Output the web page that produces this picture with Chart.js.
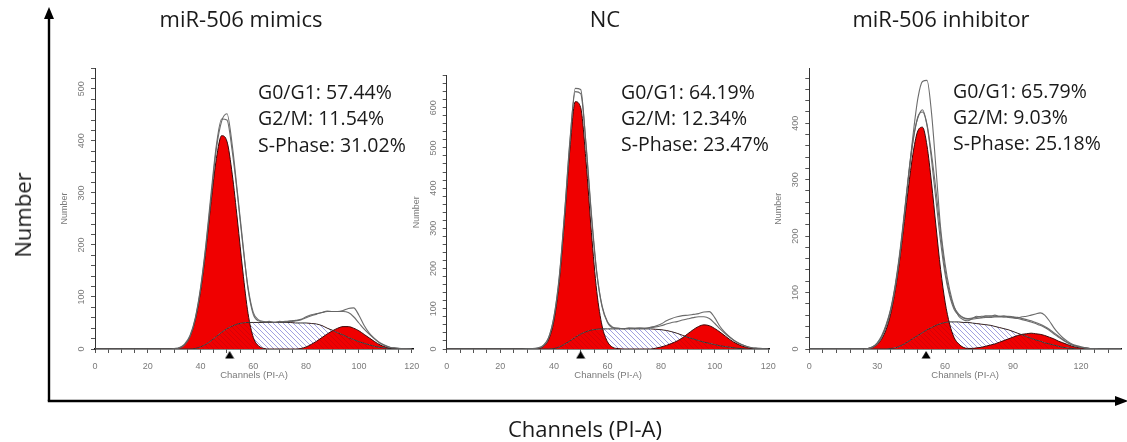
<!DOCTYPE html>
<html>
<head>
<meta charset="utf-8">
<title>Cell cycle distribution</title>
<script src="https://cdn.jsdelivr.net/npm/chart.js@4.4.1/dist/chart.umd.min.js"></script>
<style>
html,body{margin:0;padding:0;background:#fff;}
#wrap{position:relative;width:1127px;height:442px;overflow:hidden;background:#fff;}
#wrap canvas,#wrap svg{position:absolute;left:0;top:0;}
.txt{position:absolute;white-space:nowrap;font-family:'Open Sans',sans-serif;color:#1a1a1a;}
.title{font-size:22px;line-height:26px;transform:translateX(-50%);}
.stats{font-size:19.5px;line-height:26.4px;}
</style>
</head>
<body>
<div id="wrap">
<svg width="1127" height="442">
  <line x1="49" y1="401" x2="49" y2="16" stroke="#000" stroke-width="2.4"/>
  <polygon points="49,7 44,19 54,19" fill="#000"/>
  <line x1="47.8" y1="401" x2="1116" y2="401" stroke="#000" stroke-width="2.4"/>
  <polygon points="1128,401 1115,396 1115,406" fill="#000"/>
</svg>
<canvas id="c1" width="1127" height="442"></canvas>
<canvas id="c2" width="1127" height="442"></canvas>
<canvas id="c3" width="1127" height="442"></canvas>
<div class="txt title" id="t1" style="left:241px;top:5px"></div>
<div class="txt title" id="t2" style="left:605px;top:5px"></div>
<div class="txt title" id="t3" style="left:941px;top:5px"></div>
<div class="txt stats" id="s1" style="left:258px;top:79px"></div>
<div class="txt stats" id="s2" style="left:621px;top:78.5px"></div>
<div class="txt stats" id="s3" style="left:953px;top:77.5px"></div>
<div class="txt" style="left:22px;top:215px;font-size:22px;line-height:26px;transform:translate(-50%,-50%) rotate(-90deg)">Number</div>
<div class="txt" style="left:585px;top:415px;font-size:22px;line-height:26px;transform:translateX(-50%)">Channels (PI-A)</div>
</div>
<script>
// ---------------- data ----------------
const titles = ['miR-506 mimics', 'NC', 'miR-506 inhibitor'];
const g1Pct = [57.44, 64.19, 65.79];
const g2Pct = [11.54, 12.34, 9.03];
const sPct  = [31.02, 23.47, 25.18];
const markerChannel = [51, 50, 51.6];

const channels = [0,2,4,6,8,10,12,14,16,18,20,22,24,26,28,30,32,34,36,38,40,42,44,46,48,50,52,54,56,58,60,62,64,66,68,70,72,74,76,78,80,82,84,86,88,90,92,94,96,98,100,102,104,106,108,110,112,114,116,118,120];
const channelsInhibitor = [0,2,4,6,8,10,12,14,16,18,20,22,24,26,28,30,32,34,36,38,40,42,44,46,48,50,52,54,56,58,60,62,64,66,68,70,72,74,76,78,80,82,84,86,88,90,92,94,96,98,100,102,104,106,108,110,112,114,116,118,120,122,124,126,128,130,132,134,136,138];

const xTicks = [0,20,40,60,80,100,120];
const xTicksInhibitor = [0,30,60,90,120];
const yTicksMimics = [0,100,200,300,400,500];
const yTicksNC = [0,100,200,300,400,500,600];
const yTicksInhibitor = [0,100,200,300,400];

// miR-506 mimics
const g1Mimics = [0,0,0,0,0,0,0,0,0,0, 0,0,0,0,0,0,2,9,24,56, 111,190,283,366,410,399,336,246,150,68, 22,6,1,0,0,0,0,0,0,0, 0,0,0,0,0,0,0,0,0,0, 0,0,0,0,0,0,0,0,0,0, 0];
const sMimics  = [0,0,0,0,0,0,0,0,0,0, 0,0,0,0,0,0,0,0,0,1, 4,9,16,24,32,39,44,48,50,51, 51,51,51,51,51,51,51,51,50,50, 50,49,48,45,40,36,31,27,22,18, 14,11,8,5,3,2,1,0,0,0, 0];
const g2Mimics = [0,0,0,0,0,0,0,0,0,0, 0,0,0,0,0,0,0,0,0,0, 0,0,0,0,0,0,0,0,0,0, 0,0,0,0,0,0,0,0,0,1, 4,9,15,22,29,35,40,43,43,40, 35,28,21,14,8,4,1,0,0,0, 0];
const fitMimics = [0,0,0,0,0,0,0,0,0,0, 0,0,0,0,0,1,3,10,26,60, 118,200,300,392,442,440,380,295,200,118, 70,56,53,52,52,52,53,53,54,56, 60,64,67,70,72,72,72,72,70,62, 50,38,28,19,11,6,3,2,1,1, 0];
const dataMimics = [0,0,0,0,0,0,0,0,0,0, 0,0,0,0,0,0,2,8,24,58, 115,196,292,385,438,452,392,300,205,115, 66,54,52,53,51,53,52,54,55,57, 62,66,68,70,73,72,72,74,78,79, 65,45,30,20,12,7,3,2,1,0, 0];

// NC
const g1NC = [0,0,0,0,0,0,0,0,0,0, 0,0,0,0,0,0,0,1,6,23, 70,168,324,499,615,600,466,290,143,57, 18,4,1,0,0,0,0,0,0,0, 0,0,0,0,0,0,0,0,0,0, 0,0,0,0,0,0,0,0,0,0, 0];
const sNC  = [0,0,0,0,0,0,0,0,0,0, 0,0,0,0,0,0,0,0,0,0, 1,5,12,20,29,37,43,47,49,50, 50,50,50,50,50,50,50,50,50,49, 48,46,43,39,34,29,25,21,17,14, 11,8,6,4,2,1,0,0,0,0, 0];
const g2NC = [0,0,0,0,0,0,0,0,0,0, 0,0,0,0,0,0,0,0,0,0, 0,0,0,0,0,0,0,0,0,0, 0,0,0,0,0,0,0,0,0,2, 5,9,14,20,28,38,48,56,60,58, 51,42,32,22,14,8,4,1,0,0, 0];
const fitNC = [0,0,0,0,0,0,0,0,0,0, 0,0,0,0,0,1,1,3,9,28, 80,180,340,520,640,635,510,337,192,107, 68,54,51,51,51,52,52,52,53,55, 58,62,66,68,72,75,78,80,80,76, 64,50,38,27,18,11,6,3,2,1, 0];
const dataNC = [0,0,0,0,0,0,0,0,0,0, 0,0,0,0,0,0,1,2,8,27, 78,176,336,515,648,645,505,330,188,104, 66,53,52,50,53,51,52,51,54,57, 62,70,76,80,83,84,86,88,92,93, 78,56,40,28,18,11,6,3,2,1, 0];

// miR-506 inhibitor
const g1Inhibitor = [0,0,0,0,0,0,0,0,0,0, 0,0,0,1,3,8,18,35,63,105, 160,226,293,351,387,393,360,294,216,141, 83,44,20,9,3,1,0,0,0,0, 0,0,0,0,0,0,0,0,0,0, 0,0,0,0,0,0,0,0,0,0, 0,0,0,0,0,0,0,0,0,0];
const sInhibitor  = [0,0,0,0,0,0,0,0,0,0, 0,0,0,0,0,0,0,0,1,2, 5,9,14,19,24,29,34,38,42,45, 47,48,48,48,47,47,46,45,44,43, 42,40,38,36,34,31,28,25,22,19, 16,14,11,9,7,5,3,2,1,0, 0,0,0,0,0,0,0,0,0,0];
const g2Inhibitor = [0,0,0,0,0,0,0,0,0,0, 0,0,0,0,0,0,0,0,0,0, 0,0,0,0,0,0,0,0,0,0, 0,0,0,0,0,0,1,2,3,5, 7,9,12,15,18,21,24,26,27,28, 27,26,24,21,18,14,11,8,5,3, 2,1,0,0,0,0,0,0,0,0];
const fitInhibitor = [0,0,0,0,0,0,0,0,0,0, 0,0,0,1,4,10,22,42,70,112, 168,238,310,372,412,420,396,335,262,190, 132,94,70,60,55,53,53,54,55,56, 56,57,57,57,56,55,54,52,50,48, 45,42,38,33,27,21,16,11,7,5, 3,2,1,1,0,0,0,0,0,0];
const dataInhibitor = [0,0,0,0,0,0,0,0,0,0, 0,0,0,1,3,9,20,40,68,110, 166,236,312,385,445,474,476,418,318,215, 150,105,75,58,52,50,54,58,56,59, 58,60,58,59,57,56,55,57,58,60, 62,64,60,50,38,28,20,14,9,6, 4,2,1,1,0,0,0,0,0,0];
const data2Inhibitor = [0,0,0,0,0,0,0,0,0,0, 0,0,0,1,4,11,24,44,72,115, 172,242,315,375,410,424,398,345,280,205, 140,98,74,62,56,54,55,56,58,58, 59,58,58,57,58,57,56,54,52,50, 47,44,40,35,29,23,17,12,8,5, 3,2,1,1,0,0,0,0,0,0];

// ---------------- styling helpers ----------------
const RED = '#f00000';
function hatch(bg, stroke, size, lw) {
  const c = document.createElement('canvas');
  c.width = size; c.height = size;
  const x = c.getContext('2d');
  if (bg) { x.fillStyle = bg; x.fillRect(0, 0, size, size); }
  x.strokeStyle = stroke; x.lineWidth = lw;
  x.beginPath();
  x.moveTo(0, 0); x.lineTo(size, size);
  x.stroke();
  x.beginPath();
  x.moveTo(-1, size - 1); x.lineTo(1, size + 1);
  x.moveTo(size - 1, -1); x.lineTo(size + 1, 1);
  x.stroke();
  return x.createPattern(c, 'repeat');
}
const HATCH_BLUE = hatch('#ffffff', 'rgb(150,150,222)', 5, 0.9);
const HATCH_RED = hatch(RED, 'rgba(170,0,20,0.45)', 5, 0.9);
const MARKER = (() => {
  const c = document.createElement('canvas');
  c.width = 10; c.height = 22;
  const x = c.getContext('2d');
  x.fillStyle = '#000';
  x.beginPath(); x.moveTo(5, 13); x.lineTo(9.5, 20.5); x.lineTo(0.5, 20.5); x.closePath(); x.fill();
  return c;
})();

function tickValues(step, max) {
  const out = [];
  for (let v = 0; v <= max + 1e-9; v += step) out.push(v);
  return out;
}

const panels = [
  { id: 'c1', ch: channels, g1: g1Mimics, s: sMimics, g2: g2Mimics, raw: [fitMimics, dataMimics],
    marker: markerChannel[0], xMax: 120.5, yMax: 540, xMajor: xTicks, xStep: 5, yMajor: yTicksMimics,
    area: { left: 95, right: 413, top: 68 } },
  { id: 'c2', ch: channels, g1: g1NC, s: sNC, g2: g2NC, raw: [fitNC, dataNC],
    marker: markerChannel[1], xMax: 120.5, yMax: 680, xMajor: xTicks, xStep: 5, yMajor: yTicksNC,
    area: { left: 446.7, right: 769.6, top: 75.5 } },
  { id: 'c3', ch: channelsInhibitor, g1: g1Inhibitor, s: sInhibitor, g2: g2Inhibitor, raw: [fitInhibitor, dataInhibitor, data2Inhibitor],
    marker: markerChannel[2], xMax: 137.7, yMax: 497, xMajor: xTicksInhibitor, xStep: 6, yMajor: yTicksInhibitor,
    area: { left: 809.3, right: 1127, top: 68.5 } }
];

const AXIS_FONT = { family: "'Liberation Sans', Arial, sans-serif", size: 9 };
const GREY_TXT = '#7a7a7a';

function build(p) {
  const pts = arr => p.ch.map((x, i) => ({ x: x, y: arr[i] }));
  const gComb = p.g1.map((v, i) => Math.max(v, p.g2[i]));
  const base = { pointRadius: 0, pointHoverRadius: 0, cubicInterpolationMode: 'monotone' };
  const datasets = [
    Object.assign({ label: 'S-Phase', data: pts(p.s), order: 6, fill: 'origin',
      backgroundColor: HATCH_RED, borderWidth: 0, borderColor: 'rgba(0,0,0,0)' }, base),
    Object.assign({ label: 'G0/G1 + G2/M', data: pts(gComb), order: 5,
      fill: { target: 0, above: RED, below: HATCH_BLUE },
      borderColor: '#3a0808', borderWidth: 1 }, base),
    Object.assign({ label: 'S-Phase outline', data: pts(p.s), order: 4, fill: false,
      borderColor: '#333333', borderWidth: 1 }, base)
  ];
  p.raw.forEach((r, k) => datasets.push(Object.assign({ label: 'histogram ' + (k + 1), data: pts(r), order: 3,
    fill: false, borderColor: 'rgba(100,100,100,0.95)', borderWidth: 1.1 }, base)));
  datasets.push({ label: 'marker', data: [{ x: p.marker, y: 0 }], order: 1, showLine: false,
    pointStyle: MARKER, pointRadius: 5, clip: false });

  const xt = tickValues(p.xStep, p.xMax);
  const yt = tickValues(20, p.yMax);

  return new Chart(document.getElementById(p.id), {
    type: 'line',
    data: { datasets: datasets },
    options: {
      responsive: false, animation: false, events: [],
      layout: { padding: { left: p.area.left - 40, right: 1127 - p.area.right, top: p.area.top, bottom: 63 } },
      plugins: { legend: { display: false }, tooltip: { enabled: false } },
      scales: {
        x: {
          type: 'linear', min: 0, max: p.xMax,
          afterBuildTicks: s => { s.ticks = xt.map(v => ({ value: v })); },
          afterFit: s => { s.height = 30; },
          ticks: { autoSkip: false, minRotation: 0, maxRotation: 0, padding: 8, color: GREY_TXT, font: AXIS_FONT,
            callback: v => p.xMajor.includes(v) ? String(v) : '' },
          grid: { drawOnChartArea: false, drawTicks: true, tickLength: 4, color: '#555', lineWidth: 1 },
          border: { display: true, color: '#111', width: 1.6 },
          title: { display: true, text: 'Channels (PI-A)', color: GREY_TXT,
            font: { family: "'Liberation Sans', Arial, sans-serif", size: 9.5 }, padding: { top: 0, bottom: -2 } }
        },
        y: {
          min: 0, max: p.yMax,
          afterBuildTicks: s => { s.ticks = yt.map(v => ({ value: v })); },
          afterFit: s => { s.width = 40; },
          ticks: { autoSkip: false, minRotation: 90, maxRotation: 90, crossAlign: 'center', padding: 2,
            color: GREY_TXT, font: AXIS_FONT,
            callback: v => p.yMajor.includes(v) ? String(v) : '' },
          grid: { drawOnChartArea: false, drawTicks: true, tickLength: 4, color: '#555', lineWidth: 1 },
          border: { display: true, color: '#333', width: 1 },
          title: { display: true, text: 'Number', color: GREY_TXT,
            font: { family: "'Liberation Sans', Arial, sans-serif", size: 9 }, padding: { top: 4, bottom: 0 } }
        }
      }
    }
  });
}

panels.forEach(build);

titles.forEach((t, i) => { document.getElementById('t' + (i + 1)).textContent = t; });
[0, 1, 2].forEach(i => {
  document.getElementById('s' + (i + 1)).innerHTML =
    'G0/G1: ' + g1Pct[i].toFixed(2) + '%<br>G2/M: ' + g2Pct[i].toFixed(2) + '%<br>S-Phase: ' + sPct[i].toFixed(2) + '%';
});
</script>
</body>
</html>
